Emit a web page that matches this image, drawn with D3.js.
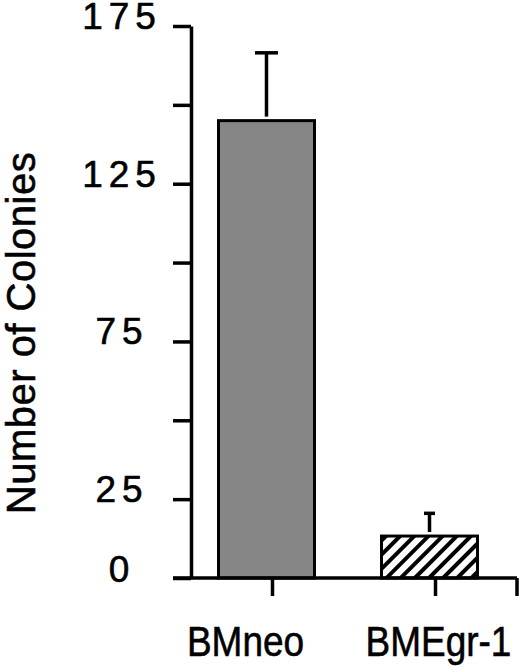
<!DOCTYPE html>
<html>
<head>
<meta charset="utf-8">
<script src="https://cdn.jsdelivr.net/npm/d3@7"></script>
<style>
	body { margin: 0; background: #fff; }
	svg { display: block; font-family: 'Liberation Sans', Arial, Helvetica, sans-serif; }
	svg text { fill: #000; stroke: #000; stroke-width: 0.6px; }
</style>
</head>
<body>
<svg width="520" height="668"></svg>
<script>
'use strict';

// Chart data
const categories = ['BMneo', 'BMEgr-1']
const colonies = [145, 13.3]
const errors = [21.5, 7.2]
const yTicks = [0, 25, 50, 75, 100, 125, 150, 175]
const yTickLabels = [0, 25, 75, 125, 175]

const svg = d3.select('svg')

// Scales
const y = d3.scaleLinear().domain([0, 175]).range([578, 26])
const x = d3.scaleBand().domain(categories).range([191, 517]).padding(0)
const BAR = { w: 96, shift: -6 }
const caps = [23, 11]

// Hatch pattern for the second bar
const defs = svg.append('defs')
defs.append('pattern')
	.attr('id', 'hatch')
	.attr('patternUnits', 'userSpaceOnUse')
	.attr('width', 10).attr('height', 10)
	.attr('patternTransform', 'rotate(45)')
	.call(p => {
		p.append('rect').attr('width', 10).attr('height', 10).attr('fill', '#fff')
		p.append('rect').attr('x', 0).attr('width', 4).attr('height', 10).attr('fill', '#000')
	})

// Bars
const barX = (d, i) => x(categories[i]) + x.bandwidth() / 2 - BAR.w / 2 + BAR.shift
svg.selectAll('rect.bar')
	.data(colonies)
	.enter().append('rect')
	.classed('bar', true)
	.attr('x', barX)
	.attr('width', BAR.w)
	.attr('y', (d) => y(d))
	.attr('height', (d) => y(0) - y(d))
	.attr('fill', (d, i) => i === 0 ? '#868686' : 'url(#hatch)')
	.attr('stroke', '#000')
	.attr('stroke-width', 3)

// Error bars (upper only)
const eb = svg.selectAll('g.err')
	.data(colonies)
	.enter().append('g')
	.classed('err', true)
	.attr('stroke', '#000')
	.attr('stroke-width', 3.5)
eb.append('line')
	.attr('x1', (d, i) => barX(d, i) + BAR.w / 2)
	.attr('x2', (d, i) => barX(d, i) + BAR.w / 2)
	.attr('y1', (d, i) => y(d + errors[i]))
	.attr('y2', (d) => y(d) - 4)
eb.append('line')
	.attr('x1', (d, i) => barX(d, i) + BAR.w / 2 - caps[i] / 2)
	.attr('x2', (d, i) => barX(d, i) + BAR.w / 2 + caps[i] / 2)
	.attr('y1', (d, i) => y(d + errors[i]))
	.attr('y2', (d, i) => y(d + errors[i]))

// Y axis
const yAxis = svg.append('g')
	.attr('transform', `translate(${x.range()[0]},0)`)
	.call(d3.axisLeft(y).tickValues(yTicks).tickSize(18).tickSizeOuter(0).tickFormat(''))
yAxis.selectAll('path, line').attr('stroke', '#000').attr('stroke-width', 3.5)

svg.append('g').selectAll('text')
	.data(yTickLabels)
	.enter().append('text')
	.attr('x', 119)
	.attr('y', (d) => y(d) + (d === 0 ? 4 : 3))
	.attr('text-anchor', 'middle')
	.attr('font-size', 37)
	.attr('letter-spacing', 6)
	.attr('dx', 3)
	.text((d) => d)

// X axis
const xAxis = svg.append('g')
	.attr('transform', `translate(0,${y(0)})`)
	.call(d3.axisBottom(x).tickSize(18).tickSizeOuter(0).tickFormat(''))
xAxis.select('path.domain').remove()
xAxis.append('line')
	.attr('x1', x.range()[0] - 18).attr('x2', x.range()[1])
	.attr('y1', 0).attr('y2', 0)
xAxis.append('line')
	.attr('x1', x.range()[1]).attr('x2', x.range()[1])
	.attr('y1', 0).attr('y2', 18)
xAxis.selectAll('line').attr('stroke', '#000').attr('stroke-width', 3.5)

// Category labels
const labelShift = [-27, 3]
svg.append('g').selectAll('text')
	.data(categories)
	.enter().append('text')
	.attr('transform', (d, i) => `translate(${x(d) + x.bandwidth() / 2 + labelShift[i]},656) scale(0.86,1)`)
	.attr('text-anchor', 'middle')
	.attr('font-size', 43)
	.text((d) => d)

// Y title
svg.append('text')
	.attr('transform', 'translate(35,333) rotate(-90)')
	.attr('text-anchor', 'middle')
	.attr('font-size', 40)
	.attr('letter-spacing', 0.5)
	.text('Number of Colonies')
</script>
</body>
</html>
